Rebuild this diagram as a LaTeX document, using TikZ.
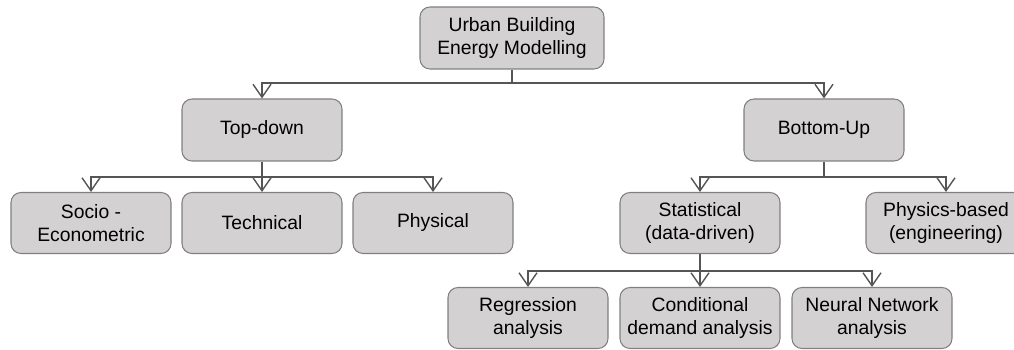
\documentclass[tikz,border=0pt]{standalone}
\usepackage{fontspec}
\setmainfont{Liberation Sans}
\usetikzlibrary{arrows.meta, positioning}

\definecolor{boxfill}{RGB}{211,209,210}
\definecolor{boxline}{RGB}{128,128,128}
\definecolor{linkline}{RGB}{85,85,85}

\begin{document}
\begin{tikzpicture}[>={Straight Barb[length=2.6mm, width=3.6mm]},
      model/.style={draw=boxline, fill=boxfill, rounded corners=0.2cm, line width=0.6pt,
                    minimum width=3.2cm, minimum height=1.22cm, inner sep=1pt,
                    align=center, font=\fontsize{11}{13}\selectfont},
      link/.style={draw=linkline, line width=0.8pt}]

    \useasboundingbox (0,0) rectangle (20.28,6.98);

    \def\ya{4.38}  % level of the two approaches
    \def\yb{2.52}  % level of the model families
    \def\yc{0.62}  % level of the statistical methods

    % Root
    \node[model, minimum width=3.68cm, minimum height=1.24cm] (ubem) at (10.24, 6.22)
      {Urban Building\\Energy Modelling};

    % Approaches
    \node[model, minimum height=1.24cm] (topdown)  at (5.24, \ya)  {Top-down};
    \node[model, minimum height=1.24cm] (bottomup) at (16.48, \ya) {Bottom-Up};

    % Top-down families
    \node[model] (socio)     at (1.82, \yb) {Socio -\\Econometric};
    \node[model] (technical) at (5.24, \yb) {Technical};
    \node[model] (physical)  at (8.66, \yb) {Physical};

    % Bottom-up families
    \node[model] (statistical) at (14.00, \yb) {Statistical\\(data-driven)};
    \node[model] (physics)     at (18.92, \yb) {Physics-based\\(engineering)};

    % Statistical methods
    \node[model] (regression)  at (10.56, \yc) {Regression\\analysis};
    \node[model] (conditional) at (14.00, \yc) {Conditional\\demand analysis};
    \node[model] (neural)      at (17.44, \yc) {Neural Network\\analysis};

    % Bus junctions
    \coordinate (j1) at (10.24, 5.32);
    \coordinate (j2) at (5.24, 3.44);
    \coordinate (j3) at (16.48, 3.44);
    \coordinate (j4) at (14.00, 1.56);

    % Connectors
    \draw[link] (ubem.south) -- (j1);
    \draw[link, ->] (j1) -| (topdown.north);
    \draw[link, ->] (j1) -| (bottomup.north);

    \draw[link] (topdown.south) -- (j2);
    \foreach \n in {socio, technical, physical}
      \draw[link, ->] (j2) -| (\n.north);

    \draw[link] (bottomup.south) -- (j3);
    \foreach \n in {statistical, physics}
      \draw[link, ->] (j3) -| (\n.north);

    \draw[link] (statistical.south) -- (j4);
    \foreach \n in {regression, conditional, neural}
      \draw[link, ->] (j4) -| (\n.north);

\end{tikzpicture}
\end{document}
